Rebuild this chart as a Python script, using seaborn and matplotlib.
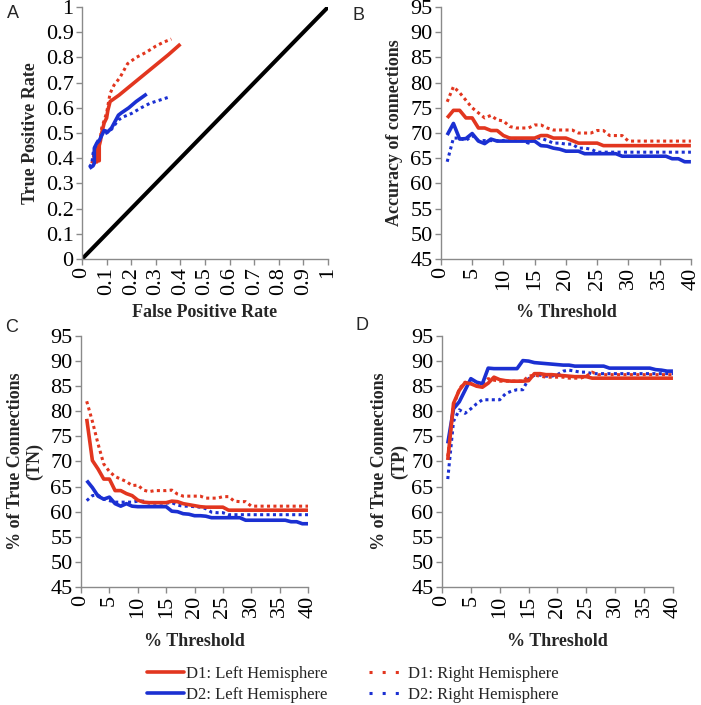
import matplotlib
matplotlib.use("Agg")

import matplotlib.pyplot as plt
import seaborn as sns
from matplotlib.lines import Line2D


sns.set_theme(style="ticks")
plt.rcParams["font.family"] = ["Liberation Serif", "DejaVu Serif"]

RED = "#E2361F"
BLUE = "#1B30D2"
SOLID_LW = 2.6
DOT_LW = 2.2
DOTS = (0, (1, 1.1))
TICK_FS = 16
LABEL_FS = 13

# panel A: ROC points (FPR, TPR)
roc_d1_left_fpr = [0.05, 0.05, 0.06, 0.06, 0.07, 0.07, 0.075, 0.08, 0.085, 0.09, 0.10, 0.105,
                   0.114, 0.15, 0.20, 0.25, 0.30, 0.35, 0.40]
roc_d1_left_tpr = [0.38, 0.42, 0.385, 0.44, 0.39, 0.45, 0.47, 0.50, 0.52, 0.54, 0.56, 0.59,
                   0.625, 0.65, 0.69, 0.73, 0.77, 0.81, 0.853]
roc_d1_right_fpr = [0.04, 0.05, 0.06, 0.065, 0.075, 0.08, 0.09, 0.10, 0.114, 0.13, 0.154,
                    0.185, 0.22, 0.26, 0.30, 0.33, 0.363]
roc_d1_right_tpr = [0.38, 0.42, 0.40, 0.45, 0.48, 0.52, 0.55, 0.58, 0.657, 0.69, 0.72,
                    0.775, 0.80, 0.82, 0.845, 0.86, 0.873]
roc_d2_left_fpr = [0.03, 0.045, 0.05, 0.05, 0.06, 0.07, 0.08, 0.09, 0.105, 0.12, 0.148,
                   0.16, 0.19, 0.22, 0.263]
roc_d2_left_tpr = [0.36, 0.37, 0.38, 0.44, 0.46, 0.47, 0.49, 0.51, 0.505, 0.52, 0.571,
                   0.58, 0.60, 0.625, 0.655]
roc_d2_right_fpr = [0.03, 0.04, 0.045, 0.055, 0.065, 0.08, 0.10, 0.12, 0.148, 0.17, 0.202,
                    0.24, 0.276, 0.32, 0.358]
roc_d2_right_tpr = [0.365, 0.38, 0.42, 0.45, 0.47, 0.49, 0.50, 0.515, 0.552, 0.565, 0.578,
                    0.60, 0.618, 0.632, 0.644]
chance = [0, 1]

threshold = list(range(1, 41))

# panel B: accuracy of connections
acc_d1_left = [73, 74.5, 74.5, 73, 73, 71, 71, 70.5, 70.5, 69.5, 69, 69, 69, 69, 69, 69.5,
               69.5, 69, 69, 69, 68.5, 68, 68, 68, 68, 67.5] + [67.5] * 14
acc_d1_right = [76.2, 79.2, 78, 76.5, 75, 74, 73, 73.5, 72.6, 72.4, 71.3, 71, 71, 71, 71.6,
                71.6, 71, 70.6, 70.6, 70.6, 70.6, 70, 70, 70, 70.5, 70.5, 69.5, 69.5,
                69.5] + [68.4] * 11
acc_d2_left = [69.6, 71.9, 68.8, 68.9, 69.9, 68.4, 67.9, 68.8, 68.4] + [68.4] * 6 + \
              [67.5, 67.4, 67, 66.8, 66.4, 66.4, 66.4] + [65.9] * 6 + [65.4] * 8 + \
              [64.9, 64.9, 64.3, 64.3]
acc_d2_right = [64.3, 69, 69, 68.5, 69.5, 68.5, 68.5, 68.5, 68.5, 68.5, 69, 68.5, 68.5, 68,
                69, 69, 68.5, 68, 68, 67.8, 67.8, 67, 67, 66.8] + [66.2] * 16

# panel C: % of true connections (TN)
tn_d1_left = [78.5, 70.2, 68.5, 66.5, 66.5, 64.2, 64.2, 63.6, 63.2, 62.3, 61.9, 61.8, 61.8,
              61.8, 61.8, 62.1, 62, 61.6, 61.4, 61.2, 61, 60.9, 60.9, 60.9, 60.9] + [60.3] * 15
tn_d1_right = [82, 78, 73.5, 69.5, 68, 67, 66.5, 66, 65.2, 65.3, 64.3, 64, 64.2, 64.2, 64.2,
               64.3, 63.5, 63.1, 63.1, 63.1, 63.1, 62.7, 62.7, 62.7, 63, 63, 62.1, 62,
               62] + [61.1] * 11
tn_d2_left = [66.2, 64.8, 63.1, 62.5, 62.9, 61.6, 61.1, 61.6, 61.1] + [61] * 6 + \
             [60.1, 60, 59.6, 59.5, 59.2, 59.2, 59.1] + [58.8] * 6 + [58.3] * 8 + \
             [58, 58, 57.6, 57.6]
tn_d2_right = [62.2, 63.2, 63.3, 62.5, 62.2, 61.9, 61.9, 61.9, 61.9, 62.1, 62.1, 61.7, 61.7,
               61.7, 61.7, 61.8, 61.3, 61.1, 61.1, 61, 60.9, 60.6, 59.9, 59.8,
               59.8] + [59.4] * 15

# panel D: % of true connections (TP)
tp_d1_left = [70.3, 81.6, 84.2, 85.7, 85.5, 85, 84.8, 85.6, 86.8, 86.3, 86.1, 86, 86, 86,
              86.1, 87.5, 87.5, 87.3, 87.3, 87.2, 87.1, 87, 86.9, 86.9, 86.9] + [86.6] * 15
tp_d1_right = [71, 81, 84.5, 85.8, 85.5, 85, 85.5, 86.5, 86.2, 86, 86, 86, 86, 86, 87, 87.2,
               87, 86.8, 86.8, 86.8, 86.8, 86.6, 86.6, 86.6, 87, 87.8] + [87.3] * 14
tp_d2_left = [73.6, 80.5, 81.9, 84.2, 86.5, 85.8, 85.5, 88.6, 88.5, 88.5, 88.5, 88.5, 88.5,
              90.1, 90, 89.7, 89.6, 89.5, 89.4, 89.3, 89.2, 89.2] + [89] * 6 + [88.6] * 8 + \
             [88.3, 88.2, 88, 88]
tp_d2_right = [66.5, 78, 80.3, 79.6, 80.5, 81.5, 82.3, 82.3, 82.3, 82.3, 83.5, 84, 84.3,
               84.3, 86.5, 87.2, 87.2, 87, 87, 87.3, 88, 88.2, 88, 87.8, 87.8] + [87.5] * 15

legend_labels = ["D1: Left Hemisphere", "D2: Left Hemisphere",
                 "D1: Right Hemisphere", "D2: Right Hemisphere"]


def draw(ax, x, y, color, dotted):
    kw = dict(linewidth=DOT_LW, linestyle=DOTS, dash_capstyle="butt") if dotted \
        else dict(linewidth=SOLID_LW, solid_capstyle="butt")
    sns.lineplot(x=x, y=y, ax=ax, color=color, sort=False, estimator=None, **kw)


def style_axes(ax, xlim, ylim, xticks, yticks, xfmt, yfmt):
    ax.set_xlim(*xlim)
    ax.set_ylim(*ylim)
    ax.set_xticks(xticks)
    ax.set_yticks(yticks)
    ax.set_xticklabels([xfmt(v) for v in xticks], rotation=90, fontsize=TICK_FS)
    ax.set_yticklabels([yfmt(v) for v in yticks], fontsize=TICK_FS)
    for side in ["top", "right"]:
        ax.spines[side].set_visible(False)
    for side in ["left", "bottom"]:
        ax.spines[side].set_color("#8a8a8a")
        ax.spines[side].set_linewidth(1.0)
    ax.tick_params(axis="both", direction="out", length=4, width=1.0,
                   color="#8a8a8a", pad=2, labelcolor="black")
    ax.set_facecolor("white")


def fmt_dec(v):
    v = round(v, 1)
    return "0" if v == 0 else ("1" if v == 1 else f"{v:.1f}")


fig = plt.figure(figsize=(7.01, 7.05), dpi=100)
fig.patch.set_facecolor("white")

ax_a = fig.add_axes([0.117, 0.6326, 0.351, 0.3574])
ax_b = fig.add_axes([0.629, 0.6326, 0.3566, 0.3574])
ax_c = fig.add_axes([0.1156, 0.1674, 0.3238, 0.356])
ax_d = fig.add_axes([0.6305, 0.1674, 0.3295, 0.356])

# A
sns.lineplot(x=chance, y=chance, ax=ax_a, color="black", linewidth=2.9)
draw(ax_a, roc_d1_right_fpr, roc_d1_right_tpr, RED, True)
draw(ax_a, roc_d1_left_fpr, roc_d1_left_tpr, RED, False)
draw(ax_a, roc_d2_right_fpr, roc_d2_right_tpr, BLUE, True)
draw(ax_a, roc_d2_left_fpr, roc_d2_left_tpr, BLUE, False)
ticks01 = [i / 10 for i in range(11)]
style_axes(ax_a, (0, 1), (0, 1), ticks01, ticks01, fmt_dec, fmt_dec)
ax_a.set_xlabel("False Positive Rate", fontsize=LABEL_FS, fontweight="bold")
ax_a.set_ylabel("True Positive Rate", fontsize=LABEL_FS, fontweight="bold")
ax_a.xaxis.set_label_coords(0.5, -0.178)
ax_a.yaxis.set_label_coords(-0.175, 0.5)

thr_ticks = list(range(0, 41, 5))
pct_ticks = list(range(45, 96, 5))
panels = [
    (ax_b, acc_d1_left, acc_d1_right, acc_d2_left, acc_d2_right,
     "Accuracy of connections", -0.152, -0.178),
    (ax_c, tn_d1_left, tn_d1_right, tn_d2_left, tn_d2_right,
     "% of True Connections\n(TN)", -0.165, -0.183),
    (ax_d, tp_d1_left, tp_d1_right, tp_d2_left, tp_d2_right,
     "% of True Connections\n(TP)", -0.147, -0.183),
]
for ax, d1l, d1r, d2l, d2r, ylab, ypos, xpos in panels:
    draw(ax, threshold, d2r, BLUE, True)
    draw(ax, threshold, d1r, RED, True)
    draw(ax, threshold, d2l, BLUE, False)
    draw(ax, threshold, d1l, RED, False)
    style_axes(ax, (0, 40), (45, 95), thr_ticks, pct_ticks, str, str)
    ax.set_xlabel("% Threshold", fontsize=LABEL_FS, fontweight="bold")
    ax.set_ylabel(ylab, fontsize=LABEL_FS, fontweight="bold", linespacing=1.2)
    ax.xaxis.set_label_coords(0.5, xpos)
    ax.yaxis.set_label_coords(ypos, 0.5)

for letter, px, py in [("A", 13, 14), ("B", 358, 16), ("C", 12, 327), ("D", 362, 325)]:
    fig.text(px / 701, 1 - py / 705, letter, fontsize=13, ha="center", va="center",
             family=["Liberation Sans", "DejaVu Sans"])

handles = [
    Line2D([], [], color=RED, linewidth=SOLID_LW),
    Line2D([], [], color=BLUE, linewidth=SOLID_LW),
    Line2D([], [], color=RED, linewidth=DOT_LW, linestyle=(0, (1, 3.3))),
    Line2D([], [], color=BLUE, linewidth=DOT_LW, linestyle=(0, (1, 3.3))),
]
fig.legend(handles, legend_labels, ncol=2, loc="upper left",
           bbox_to_anchor=(147 / 701, 1 - 666 / 705), frameon=False, fontsize=12,
           handlelength=2.2, handletextpad=0.12, labelspacing=0.3, columnspacing=2.5,
           borderpad=0, borderaxespad=0)

fig.savefig("out.png", dpi=100, facecolor="white")
